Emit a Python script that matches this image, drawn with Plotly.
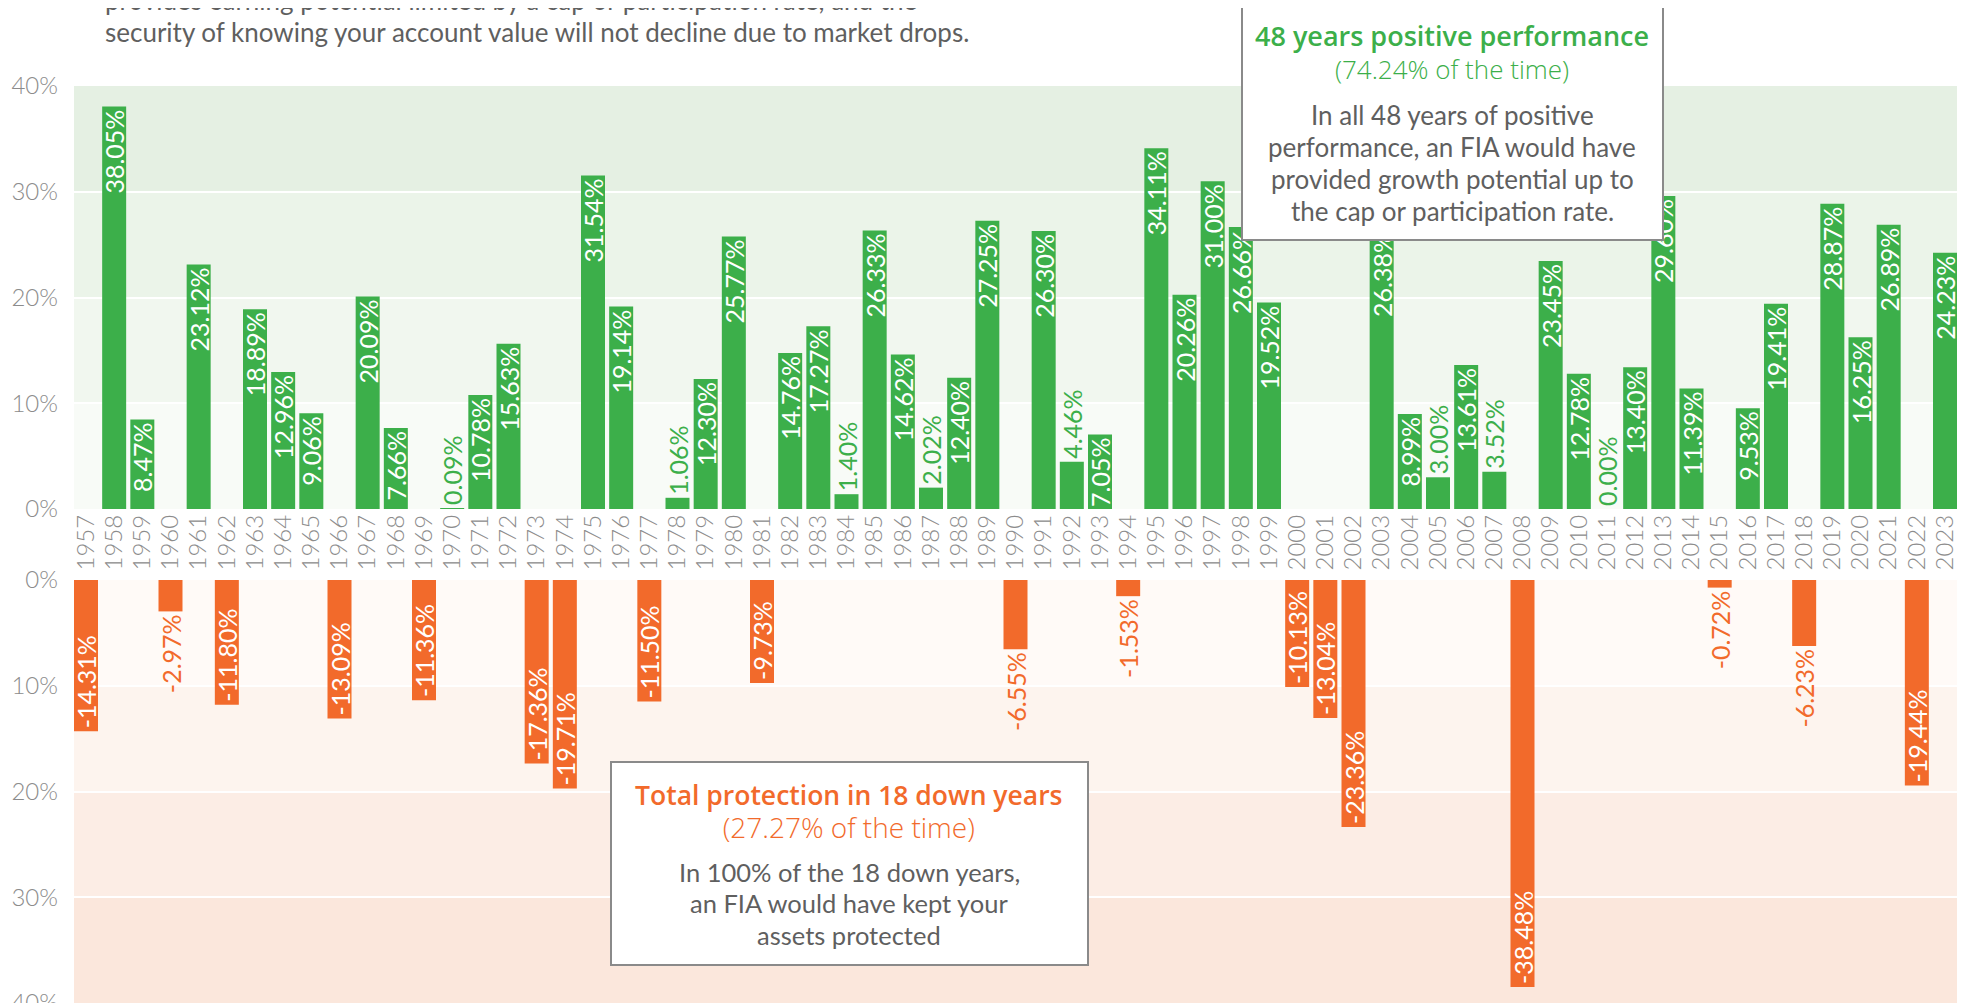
import plotly.graph_objects as go

# ---------------- data ----------------
years = list(range(1957, 2024))
returns = [
    -14.31, 38.05, 8.47, -2.97, 23.12, -11.80, 18.89, 12.96, 9.06, -13.09,
    20.09, 7.66, -11.36, 0.09, 10.78, 15.63, -17.36, -19.71, 31.54, 19.14,
    -11.50, 1.06, 12.30, 25.77, -9.73, 14.76, 17.27, 1.40, 26.33, 14.62,
    2.02, 12.40, 27.25, -6.55, 26.30, 4.46, 7.05, -1.53, 34.11, 20.26,
    31.00, 26.66, 19.52, -10.13, -13.04, -23.36, 26.38, 8.99, 3.00, 13.61,
    3.52, -38.48, 23.45, 12.78, 0.00, 13.40, 29.60, 11.39, -0.72, 9.53,
    19.41, -6.23, 28.87, 16.25, 26.89, -19.44, 24.23,
]
top_tickvals = [0, 10, 20, 30, 40]
bottom_tickvals = [0, -10, -20, -30, -40]
tick_labels = ["0%", "10%", "20%", "30%", "40%"]

intro_lines = [
    "provides earning potential limited by a cap or participation rate, and the",
    "security of knowing your account value will not decline due to market drops.",
]
pos_box = {
    "title": "48 years positive performance",
    "sub": "(74.24% of the time)",
    "body": ["In all 48 years of positive", "performance, an FIA would have",
             "provided growth potential up to", "the cap or participation rate."],
}
neg_box = {
    "title": "Total protection in 18 down years",
    "sub": "(27.27% of the time)",
    "body": ["In 100% of the 18 down years,", "an FIA would have kept your",
             "assets protected"],
}

# ---------------- style ----------------
GREEN = "#3caf4a"
ORANGE = "#f26a2b"
GREY = "#8c8c8c"
TEXT = "#5f5f5f"
FONT = "Lato"
HEAD = "Open Sans"
OFF = 8                      # page body margin of the html page
W, H = 1965 - OFF, 1003 - OFF
L = 74 - OFF                 # plot area starts at screen x = 74
R = W - (1959 - OFF)         # plot area ends at screen x = 1959
band_top = ["#f8fbf7", "#f1f7ef", "#ebf4e9", "#e5f0e3"]
band_bot = ["#fffaf7", "#fdf4ee", "#fcede5", "#fbe7dc"]

def py(px):  # screen pixel row -> paper y
    return 1 - (px - OFF) / H

def pxx(px):  # screen pixel column -> paper x
    return (px - OFF - L) / (W - L - R)

pos_x = [y for y, v in zip(years, returns) if v >= 0]
pos_v = [v for v in returns if v >= 0]
neg_x = [y for y, v in zip(years, returns) if v < 0]
neg_v = [v for v in returns if v < 0]

LBL = 25
fig = go.Figure()
fig.add_trace(go.Bar(
    x=pos_x, y=pos_v, xaxis="x", yaxis="y", width=0.852,
    marker=dict(color=GREEN, line=dict(width=0)),
    text=[f"{v:.2f}%" for v in pos_v],
    textposition=["inside" if v > 7 else "outside" for v in pos_v],
    textangle=-90, insidetextanchor="end", constraintext="none",
    textfont=dict(family=FONT, size=LBL),
    insidetextfont=dict(family=FONT, size=LBL, color="white"),
    outsidetextfont=dict(family=FONT, size=LBL, color=GREEN),
    cliponaxis=False, hoverinfo="skip", showlegend=False,
))
fig.add_trace(go.Bar(
    x=neg_x, y=neg_v, xaxis="x2", yaxis="y2", width=0.852,
    marker=dict(color=ORANGE, line=dict(width=0)),
    text=[f"{v:.2f}%" for v in neg_v],
    textposition=["inside" if v < -7 else "outside" for v in neg_v],
    textangle=-90, insidetextanchor="end", constraintext="none",
    textfont=dict(family=FONT, size=LBL),
    insidetextfont=dict(family=FONT, size=LBL, color="white"),
    outsidetextfont=dict(family=FONT, size=LBL, color=ORANGE),
    cliponaxis=False, hoverinfo="skip", showlegend=False,
))

xr = [1956.574, 2023.497]
shapes = []
for i in range(4):
    shapes.append(dict(type="rect", xref="x domain", yref="y", x0=0, x1=1,
                       y0=10 * i, y1=10 * (i + 1), fillcolor=band_top[i],
                       line=dict(width=0), layer="below"))
    shapes.append(dict(type="rect", xref="x2 domain", yref="y2", x0=0, x1=1,
                       y0=-10 * i, y1=-10 * (i + 1), fillcolor=band_bot[i],
                       line=dict(width=0), layer="below"))

# annotation boxes: (box px), content, colour, centre x, heading centre row,
# body rows, sizes (title, subtitle, body)
boxes = [((1242, 7, 1663, 240), pos_box, GREEN, 1452, 52, [115, 147, 179, 211], (27, 26, 26)),
         ((611, 762, 1088, 965), neg_box, ORANGE, 849, 811, [872, 903, 935], (26.5, 28, 25.5))]
annotations = []
for (x0, y0, x1, y1), box, col, cx, hy, bpos, (s1, s2, s3) in boxes:
    shapes.append(dict(type="rect", xref="paper", yref="paper",
                       x0=pxx(x0), x1=pxx(x1), y0=py(y0), y1=py(y1),
                       fillcolor="white", line=dict(color="#8a8a8a", width=2),
                       layer="above"))
    heading = (f"<span style='font-size:{s1}px;font-weight:600'>{box['title']}</span><br>"
               f"<span style='font-size:{s2}px;font-weight:300'>{box['sub']}</span>")
    annotations.append(dict(xref="paper", yref="paper", x=pxx(cx), y=py(hy),
                            text=heading, showarrow=False, xanchor="center",
                            yanchor="middle", align="center",
                            font=dict(family=HEAD, size=25, color=col)))
    for line, yy in zip(box["body"], bpos):
        annotations.append(dict(xref="paper", yref="paper", x=pxx(cx), y=py(yy),
                                text=line, showarrow=False, xanchor="center",
                                yanchor="middle",
                                font=dict(family=FONT, size=s3, color=TEXT)))

for line, yy in zip(intro_lines, [0, 32]):
    annotations.append(dict(xref="paper", yref="paper", x=pxx(103), y=py(yy),
                            text=line, showarrow=False, xanchor="left",
                            yanchor="middle",
                            font=dict(family=FONT, size=26, color=TEXT)))

fig.update_layout(
    width=W, height=H,
    margin=dict(l=L, r=R, t=0, b=0, autoexpand=False),
    paper_bgcolor="white", plot_bgcolor="white",
    shapes=shapes, annotations=annotations,
    xaxis=dict(domain=[0, 1], range=xr, anchor="y", tickmode="array",
               tickvals=years, ticktext=[str(y) for y in years], tickangle=-90,
               tickfont=dict(family=FONT, size=24, color=GREY, weight=300),
               showgrid=False, zeroline=False, showline=False, ticks="",
               automargin=False),
    xaxis2=dict(domain=[0, 1], range=xr, anchor="y2", showticklabels=False,
                showgrid=False, zeroline=False, showline=False, ticks="",
                automargin=False),
    yaxis=dict(domain=[py(509), py(86)], range=[0, 40], anchor="x",
               tickmode="array", tickvals=top_tickvals, ticktext=tick_labels,
               tickfont=dict(family=FONT, size=24, color=GREY, weight=300),
               showgrid=True, gridcolor="white", gridwidth=2, zeroline=False,
               showline=False, ticks="", ticklabelstandoff=15, automargin=False),
    yaxis2=dict(domain=[0, py(580)], range=[-40, 0], anchor="x2",
                tickmode="array", tickvals=bottom_tickvals, ticktext=tick_labels,
                tickfont=dict(family=FONT, size=24, color=GREY, weight=300),
                showgrid=True, gridcolor="white", gridwidth=2, zeroline=False,
                showline=False, ticks="", ticklabelstandoff=15, automargin=False,
                ticklabeloverflow="allow"),
)

fig.write_html("out.html")
